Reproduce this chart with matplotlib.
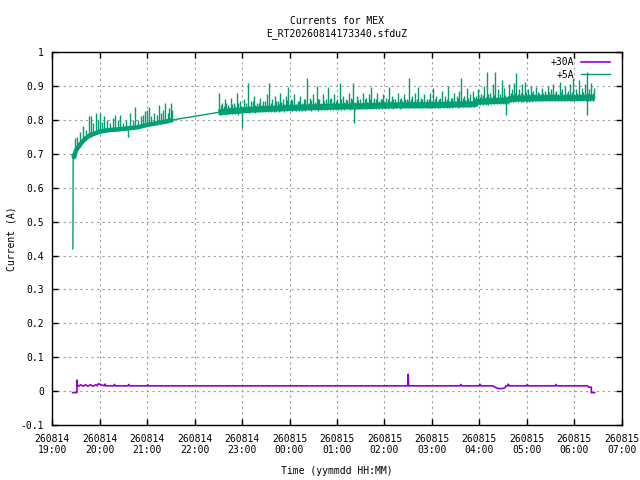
import numpy as np
import matplotlib
matplotlib.use('Agg')
import matplotlib.pyplot as plt
import matplotlib.dates as mdates

# time axis: hours after 2026-08-14 19:00
t0 = np.datetime64('2026-08-14T19:00')

# +30A current
p30_hours = [0.43, 0.52, 0.52, 0.53, 0.56, 0.60, 0.65, 0.70, 0.75, 0.80, 0.86, 0.92, 0.95,
             0.97, 1.10, 1.11, 1.13, 1.30, 1.31, 1.33, 1.60, 1.61, 1.63, 2.00, 2.01, 2.03,
             2.60, 3.00, 4.00, 5.00, 6.00, 7.00, 7.49, 7.50, 7.51, 8.00, 8.60, 8.61, 8.63,
             9.00, 9.01, 9.03, 9.28, 9.33, 9.36, 9.40, 9.48, 9.54, 9.56, 9.60, 9.61, 9.63,
             10.00, 10.01, 10.03, 10.60, 10.61, 10.63, 11.28, 11.30, 11.36, 11.36, 11.43]
p30_amps = [-0.004, -0.004, 0.033, 0.018, 0.015, 0.019, 0.015, 0.019, 0.015, 0.019, 0.015, 0.019, 0.016,
            0.022, 0.016, 0.021, 0.016, 0.016, 0.020, 0.016, 0.016, 0.020, 0.016, 0.016, 0.019, 0.016,
            0.016, 0.016, 0.016, 0.016, 0.016, 0.016, 0.016, 0.050, 0.016, 0.016, 0.016, 0.020, 0.016,
            0.016, 0.021, 0.016, 0.016, 0.012, 0.010, 0.008, 0.008, 0.010, 0.016, 0.016, 0.021, 0.016,
            0.016, 0.020, 0.016, 0.016, 0.020, 0.016, 0.016, 0.012, 0.012, -0.004, -0.004]

# +5A current, the central level of the band
p5_hours = [0.43, 0.435, 0.44, 0.46, 0.50, 0.55, 0.60, 0.70, 0.80, 0.90, 1.00, 1.20, 1.40, 1.60,
            1.80, 2.00, 2.20, 2.40, 2.55, 3.50, 4.00, 4.50, 5.00, 5.50, 6.00, 6.50, 7.00, 7.50,
            8.00, 8.50, 8.90, 8.95, 9.30, 9.60, 9.65, 10.00, 10.50, 11.00, 11.43]
p5_amps = [0.42, 0.43, 0.70, 0.69, 0.71, 0.72, 0.73, 0.745, 0.755, 0.76, 0.765, 0.77, 0.772, 0.775,
           0.778, 0.785, 0.79, 0.795, 0.80, 0.822, 0.828, 0.832, 0.835, 0.837, 0.839, 0.84, 0.842, 0.843,
           0.843, 0.845, 0.846, 0.853, 0.855, 0.857, 0.862, 0.863, 0.864, 0.864, 0.865]

# +5A spikes as (hour, low, high)
p5_spikes_early = [
    (0.47, 0.70, 0.745), (0.52, 0.71, 0.75), (0.58, 0.72, 0.765), (0.64, 0.735, 0.782),
    (0.70, 0.74, 0.77), (0.77, 0.75, 0.81), (0.81, 0.75, 0.81), (0.86, 0.755, 0.79),
    (0.92, 0.76, 0.82), (0.97, 0.76, 0.80), (1.01, 0.765, 0.82), (1.05, 0.765, 0.795),
    (1.09, 0.765, 0.81), (1.15, 0.768, 0.80), (1.22, 0.77, 0.79), (1.28, 0.77, 0.805),
    (1.33, 0.77, 0.815), (1.38, 0.77, 0.80), (1.43, 0.772, 0.815), (1.50, 0.772, 0.79),
    (1.55, 0.773, 0.80), (1.59, 0.75, 0.775), (1.64, 0.775, 0.82), (1.70, 0.775, 0.80),
    (1.75, 0.777, 0.838), (1.81, 0.778, 0.80), (1.86, 0.78, 0.81), (1.92, 0.78, 0.815),
    (1.96, 0.782, 0.825), (1.99, 0.783, 0.829), (2.03, 0.785, 0.838), (2.08, 0.786, 0.81),
    (2.14, 0.788, 0.82), (2.20, 0.79, 0.815), (2.25, 0.79, 0.843), (2.30, 0.792, 0.82),
    (2.34, 0.793, 0.83), (2.38, 0.794, 0.85), (2.43, 0.795, 0.82), (2.47, 0.796, 0.835),
    (2.50, 0.797, 0.85), (2.53, 0.80, 0.83),
]
p5_spikes_late = [
    (3.52, 0.822, 0.879), (3.58, 0.822, 0.85), (3.64, 0.823, 0.86), (3.70, 0.824, 0.845),
    (3.76, 0.825, 0.865), (3.82, 0.826, 0.85), (3.89, 0.826, 0.88), (3.95, 0.827, 0.855),
    (4.00, 0.775, 0.828), (4.05, 0.828, 0.86), (4.12, 0.828, 0.908), (4.18, 0.829, 0.855),
    (4.25, 0.829, 0.87), (4.32, 0.83, 0.85), (4.38, 0.83, 0.865), (4.45, 0.831, 0.855),
    (4.52, 0.832, 0.875), (4.57, 0.832, 0.908), (4.63, 0.832, 0.86), (4.70, 0.833, 0.87),
    (4.75, 0.833, 0.855), (4.80, 0.834, 0.88), (4.86, 0.834, 0.86), (4.92, 0.834, 0.87),
    (4.97, 0.835, 0.898), (5.03, 0.835, 0.86), (5.10, 0.835, 0.875), (5.17, 0.836, 0.855),
    (5.23, 0.836, 0.87), (5.30, 0.836, 0.86), (5.37, 0.837, 0.922), (5.43, 0.837, 0.865),
    (5.50, 0.837, 0.875), (5.57, 0.837, 0.90), (5.63, 0.838, 0.86), (5.70, 0.838, 0.875),
    (5.76, 0.838, 0.86), (5.81, 0.838, 0.898), (5.88, 0.838, 0.865), (5.94, 0.839, 0.875),
    (6.00, 0.839, 0.86), (6.06, 0.839, 0.908), (6.12, 0.839, 0.87), (6.19, 0.84, 0.86),
    (6.25, 0.84, 0.88), (6.30, 0.84, 0.865), (6.34, 0.84, 0.908), (6.36, 0.79, 0.84),
    (6.42, 0.84, 0.87), (6.49, 0.841, 0.86), (6.55, 0.841, 0.88), (6.61, 0.841, 0.865),
    (6.67, 0.842, 0.875), (6.72, 0.842, 0.898), (6.79, 0.842, 0.865), (6.85, 0.842, 0.88),
    (6.92, 0.842, 0.86), (6.98, 0.842, 0.875), (7.04, 0.842, 0.865), (7.09, 0.842, 0.898),
    (7.16, 0.843, 0.87), (7.22, 0.843, 0.86), (7.28, 0.843, 0.88), (7.35, 0.843, 0.865),
    (7.41, 0.843, 0.875), (7.47, 0.843, 0.86), (7.52, 0.843, 0.922), (7.58, 0.843, 0.87),
    (7.65, 0.843, 0.88), (7.71, 0.843, 0.898), (7.77, 0.843, 0.865), (7.84, 0.844, 0.875),
    (7.90, 0.844, 0.86), (7.96, 0.844, 0.88), (8.03, 0.844, 0.893), (8.09, 0.844, 0.87),
    (8.15, 0.845, 0.86), (8.22, 0.845, 0.885), (8.28, 0.845, 0.87), (8.34, 0.845, 0.90),
    (8.40, 0.845, 0.865), (8.46, 0.845, 0.88), (8.52, 0.846, 0.87), (8.58, 0.846, 0.885),
    (8.62, 0.846, 0.922), (8.68, 0.846, 0.87), (8.73, 0.846, 0.893), (8.80, 0.846, 0.875),
    (8.86, 0.846, 0.885), (8.92, 0.848, 0.87), (8.98, 0.853, 0.89), (9.04, 0.853, 0.875),
    (9.10, 0.854, 0.90), (9.16, 0.854, 0.942), (9.22, 0.855, 0.88), (9.28, 0.855, 0.905),
    (9.33, 0.855, 0.942), (9.40, 0.856, 0.89), (9.47, 0.856, 0.918), (9.53, 0.857, 0.895),
    (9.57, 0.815, 0.857), (9.62, 0.858, 0.905), (9.68, 0.862, 0.89), (9.73, 0.862, 0.91),
    (9.78, 0.862, 0.937), (9.84, 0.862, 0.89), (9.90, 0.863, 0.905), (9.96, 0.863, 0.913),
    (10.02, 0.863, 0.89), (10.08, 0.863, 0.90), (10.14, 0.863, 0.885), (10.20, 0.863, 0.898),
    (10.26, 0.864, 0.88), (10.32, 0.864, 0.895), (10.38, 0.864, 0.885), (10.44, 0.864, 0.90),
    (10.50, 0.864, 0.89), (10.56, 0.864, 0.905), (10.62, 0.864, 0.885), (10.69, 0.864, 0.913),
    (10.75, 0.864, 0.89), (10.81, 0.864, 0.90), (10.87, 0.864, 0.885), (10.92, 0.864, 0.905),
    (10.97, 0.864, 0.922), (11.03, 0.864, 0.89), (11.10, 0.864, 0.918), (11.16, 0.864, 0.895),
    (11.22, 0.864, 0.905), (11.26, 0.815, 0.94), (11.31, 0.864, 0.89), (11.36, 0.864, 0.908),
    (11.41, 0.864, 0.895),
]
# short fuzz around the band
p5_spikes_minor = [
    (3.55, 0.815, 0.845), (3.61, 0.818, 0.84), (3.67, 0.815, 0.85), (3.73, 0.818, 0.838),
    (3.79, 0.816, 0.848), (3.86, 0.818, 0.842), (3.92, 0.815, 0.85), (3.98, 0.82, 0.84),
    (4.08, 0.822, 0.85), (4.15, 0.82, 0.842), (4.22, 0.822, 0.855), (4.28, 0.82, 0.845),
    (4.35, 0.823, 0.85), (4.42, 0.822, 0.843), (4.48, 0.823, 0.856), (4.55, 0.822, 0.845),
    (4.60, 0.823, 0.85), (4.67, 0.823, 0.845), (4.72, 0.824, 0.856), (4.78, 0.823, 0.847),
    (4.83, 0.825, 0.852), (4.89, 0.824, 0.846), (4.95, 0.825, 0.858), (5.00, 0.826, 0.85),
    (5.06, 0.825, 0.858), (5.13, 0.827, 0.848), (5.20, 0.826, 0.856), (5.27, 0.827, 0.85),
    (5.33, 0.826, 0.86), (5.40, 0.828, 0.85), (5.46, 0.827, 0.858), (5.53, 0.828, 0.852),
    (5.60, 0.827, 0.86), (5.66, 0.828, 0.85), (5.73, 0.828, 0.856), (5.79, 0.829, 0.85),
    (5.85, 0.828, 0.86), (5.91, 0.83, 0.852), (5.97, 0.829, 0.857), (6.03, 0.83, 0.85),
    (6.09, 0.829, 0.86), (6.15, 0.83, 0.852), (6.22, 0.831, 0.858), (6.28, 0.83, 0.85),
    (6.32, 0.831, 0.86), (6.39, 0.83, 0.852), (6.45, 0.831, 0.858), (6.52, 0.832, 0.85),
    (6.58, 0.831, 0.862), (6.64, 0.832, 0.853), (6.70, 0.832, 0.86), (6.76, 0.833, 0.852),
    (6.82, 0.832, 0.862), (6.89, 0.833, 0.855), (6.95, 0.832, 0.86), (7.01, 0.833, 0.853),
    (7.07, 0.833, 0.86), (7.13, 0.834, 0.855), (7.19, 0.833, 0.862), (7.25, 0.834, 0.854),
    (7.32, 0.833, 0.86), (7.38, 0.834, 0.855), (7.44, 0.834, 0.862), (7.50, 0.834, 0.855),
    (7.55, 0.835, 0.86), (7.62, 0.834, 0.856), (7.68, 0.835, 0.862), (7.74, 0.834, 0.855),
    (7.80, 0.835, 0.86), (7.87, 0.835, 0.856), (7.93, 0.835, 0.862), (7.99, 0.835, 0.855),
    (8.06, 0.836, 0.862), (8.12, 0.835, 0.856), (8.18, 0.836, 0.865), (8.25, 0.836, 0.856),
    (8.31, 0.836, 0.862), (8.37, 0.836, 0.856), (8.43, 0.836, 0.865), (8.49, 0.837, 0.857),
    (8.55, 0.836, 0.863), (8.60, 0.837, 0.856), (8.65, 0.837, 0.865), (8.70, 0.837, 0.858),
    (8.76, 0.837, 0.863), (8.83, 0.837, 0.857), (8.89, 0.838, 0.866), (8.95, 0.84, 0.865),
    (9.01, 0.844, 0.868), (9.07, 0.844, 0.872), (9.13, 0.845, 0.868), (9.19, 0.845, 0.875),
    (9.25, 0.846, 0.868), (9.31, 0.846, 0.874), (9.37, 0.846, 0.868), (9.43, 0.847, 0.876),
    (9.50, 0.847, 0.868), (9.55, 0.848, 0.874), (9.60, 0.848, 0.87), (9.66, 0.852, 0.878),
    (9.71, 0.853, 0.874), (9.76, 0.853, 0.88), (9.81, 0.853, 0.875), (9.87, 0.854, 0.88),
    (9.93, 0.854, 0.875), (9.99, 0.854, 0.882), (10.05, 0.854, 0.876), (10.11, 0.854, 0.88),
    (10.17, 0.855, 0.875), (10.23, 0.855, 0.882), (10.29, 0.855, 0.876), (10.35, 0.855, 0.88),
    (10.41, 0.855, 0.875), (10.47, 0.855, 0.882), (10.53, 0.855, 0.876), (10.59, 0.855, 0.88),
    (10.65, 0.855, 0.875), (10.72, 0.855, 0.882), (10.78, 0.855, 0.876), (10.84, 0.855, 0.88),
    (10.90, 0.855, 0.875), (10.95, 0.855, 0.882), (11.00, 0.855, 0.876), (11.06, 0.855, 0.88),
    (11.13, 0.855, 0.875), (11.19, 0.855, 0.882), (11.24, 0.855, 0.876), (11.29, 0.855, 0.88),
    (11.34, 0.855, 0.875), (11.39, 0.855, 0.88),
]

yticks = [-0.1, 0, 0.1, 0.2, 0.3, 0.4, 0.5, 0.6, 0.7, 0.8, 0.9, 1]
ylabels = ['-0.1', '0', '0.1', '0.2', '0.3', '0.4', '0.5', '0.6', '0.7', '0.8', '0.9', '1']

purple = '#9400d3'
green = '#009e73'


def to_time(hours):
    return t0 + (np.asarray(hours) * 3600).astype('timedelta64[s]')


plt.rcParams['font.family'] = ['DejaVu Sans Mono']
plt.rcParams['font.size'] = 7

fig = plt.figure(figsize=(6.4, 4.8), dpi=100)
ax = fig.add_axes([0.0817, 0.1142, 0.8897, 0.7775])

ax.plot(to_time(p30_hours), p30_amps, color=purple, lw=1.2, label='+30A')

h5 = np.array(p5_hours)
a5 = np.array(p5_amps)
ax.plot(to_time(h5), a5, color=green, lw=1.0, label='+5A')
# dense noise shows as a thick band
early = (h5 >= 0.44) & (h5 <= 2.55)
late = h5 >= 3.5
ax.plot(to_time(h5[early]), a5[early], color=green, lw=3.2, solid_capstyle='butt')
ax.plot(to_time(h5[late]), a5[late], color=green, lw=4.3, solid_capstyle='butt')

for spikes in (p5_spikes_early, p5_spikes_late, p5_spikes_minor):
    sh, lo, hi = zip(*spikes)
    ax.vlines(to_time(sh), lo, hi, color=green, lw=1.0)

ax.set_xlim(to_time(0), to_time(12))
ax.set_ylim(-0.1, 1.0)
ax.set_yticks(yticks)
ax.set_yticklabels(ylabels)
ax.xaxis.set_major_locator(mdates.HourLocator(interval=1))
ax.xaxis.set_major_formatter(mdates.DateFormatter('%y%m%d\n%H:%M'))

ax.grid(True, color='#a0a0a0', linestyle=(0, (2, 3)), lw=0.8)
ax.tick_params(direction='in', length=4, width=1, top=True, right=True, pad=6)
for sp in ax.spines.values():
    sp.set_linewidth(1.0)

ax.set_title('Currents for MEX\nE_RT20260814173340.sfduZ', fontsize=7, pad=11.5, linespacing=1.2)
ax.set_xlabel('Time (yymmdd HH:MM)', labelpad=8)
ax.set_ylabel('Current (A)', labelpad=2.5)

leg = ax.legend(loc='upper right', bbox_to_anchor=((610 - 52.3) / 569.4, (425.2 - 57) / 373.2),
                frameon=False, markerfirst=False, borderpad=0, borderaxespad=0,
                handlelength=3.0, handletextpad=0.7, labelspacing=0.3)

fig.savefig('out.png', dpi=100)
